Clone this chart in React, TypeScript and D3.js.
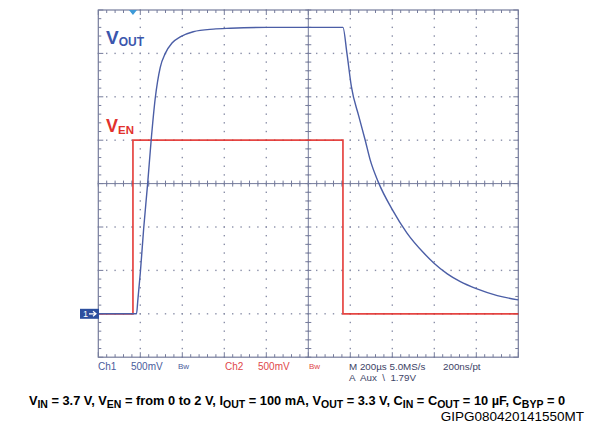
import { useMemo } from "react";
import * as d3 from "d3";

// time in µs from left edge of the screen (200 µs/div, 10 div)
const voutTime = [
  0, 182, 188, 200, 216, 235, 251, 271, 295, 319, 351, 390, 452, 548, 629, 800,
  1165, 1184, 1205, 1240, 1271, 1295, 1333, 1400, 1470, 1550, 1600, 1662, 1724,
  1800, 1900, 2000,
];
const voutVolts = [
  0, 0, 0.15, 0.47, 0.98, 1.5, 1.98, 2.48, 2.84, 3.0, 3.12, 3.19, 3.25, 3.28,
  3.29, 3.3, 3.3, 3.0, 2.62, 2.28, 2.0, 1.77, 1.52, 1.2, 0.93, 0.7, 0.58, 0.46,
  0.37, 0.29, 0.21, 0.16,
];
const venTime = [0, 165, 165, 1165, 1165, 2000];
const venVolts = [0, 0, 2, 2, 0, 0];

const ch1Labels = ["Ch1", "500mV", "Bw"];
const ch2Labels = ["Ch2", "500mV", "Bw"];
const timebaseLabels = ["M 200µs 5.0MS/s", "200ns/pt"];
const triggerLabel = "A  Aux  \\  1.79V";
const figureId = "GIPG080420141550MT";

type Seg = { t: string; sub?: boolean };
const caption: Seg[] = [
  { t: "V" }, { t: "IN", sub: true }, { t: " = 3.7 V, V" }, { t: "EN", sub: true },
  { t: " = from 0 to 2 V, I" }, { t: "OUT", sub: true }, { t: " = 100 mA, V" },
  { t: "OUT", sub: true }, { t: " = 3.3 V, C" }, { t: "IN", sub: true }, { t: " = C" },
  { t: "OUT", sub: true }, { t: " = 10 µF, C" }, { t: "BYP", sub: true }, { t: " = 0" },
];

const W = 594;
const H = 430;
const left = 98.3;
const right = 518.3;
const top = 10;
const bottom = 357.2;

const gridColor = "#767c9c";
const dotColor = "#8a8fa8";
const blue = "#4b5ea6";
const red = "#e2312d";
const font = "'Liberation Sans', Arial, sans-serif";

export default function App() {
  const x = d3.scaleLinear().domain([0, 2000]).range([left, right]);
  const y = d3.scaleLinear().domain([-0.5, 3.5]).range([bottom, top]);

  const xDivs = d3.range(0, 2001, 200);
  const yDivs = d3.range(-0.5, 3.51, 0.5);
  const xMinor = d3.range(0, 2001, 40);
  const yMinor = d3.range(-0.5, 3.51, 0.1);

  const voutPath = useMemo(
    () =>
      d3
        .line<number>()
        .x((t) => x(t))
        .y((_, i) => y(voutVolts[i]))
        .curve(d3.curveMonotoneX)(voutTime) ?? "",
    [],
  );
  const venPath = useMemo(
    () =>
      d3
        .line<number>()
        .x((t) => x(t))
        .y((_, i) => y(venVolts[i]))(venTime) ?? "",
    [],
  );

  const xc = x(1000);
  const yc = y(1.5);
  const ground = y(0);

  return (
    <svg
      width={W}
      height={H}
      style={{ position: "absolute", left: 0, top: 0, background: "#fff" }}
      fontFamily={font}
    >
      {/* dotted graticule */}
      {xDivs.slice(1, -1).map((t) => (
        <g key={"vx" + t}>
          {yMinor.map((v) => (
            <rect key={v} x={x(t) - 0.7} y={y(v) - 0.7} width={1.4} height={1.4} fill={dotColor} />
          ))}
        </g>
      ))}
      {yDivs.slice(1, -1).map((v) => (
        <g key={"hy" + v}>
          {xMinor.map((t) => (
            <rect key={t} x={x(t) - 0.7} y={y(v) - 0.7} width={1.4} height={1.4} fill={dotColor} />
          ))}
        </g>
      ))}

      {/* center axes */}
      <line x1={left} x2={right} y1={yc} y2={yc} stroke={gridColor} strokeWidth={1} />
      <line x1={xc} x2={xc} y1={top} y2={bottom} stroke={gridColor} strokeWidth={1} />
      {xMinor.map((t) => (
        <line key={"cx" + t} x1={x(t)} x2={x(t)} y1={yc - 3} y2={yc + 3} stroke={gridColor} />
      ))}
      {yMinor.map((v) => (
        <line key={"cy" + v} x1={xc - 3} x2={xc + 3} y1={y(v)} y2={y(v)} stroke={gridColor} />
      ))}

      {/* frame with edge ticks */}
      <rect x={left} y={top} width={right - left} height={bottom - top} fill="none" stroke={gridColor} strokeWidth={1.2} />
      {xMinor.map((t) => {
        const major = t % 200 === 0;
        const len = major ? 5 : 3;
        return (
          <g key={"ex" + t} stroke={gridColor}>
            <line x1={x(t)} x2={x(t)} y1={top} y2={top + len} />
            <line x1={x(t)} x2={x(t)} y1={bottom} y2={bottom - len} />
          </g>
        );
      })}
      {yMinor.map((v, i) => {
        const major = i % 5 === 0;
        const len = major ? 5 : 3;
        return (
          <g key={"ey" + i} stroke={gridColor}>
            <line x1={left} x2={left + len} y1={y(v)} y2={y(v)} />
            <line x1={right} x2={right - len} y1={y(v)} y2={y(v)} />
          </g>
        );
      })}

      {/* traces */}
      <path d={venPath} fill="none" stroke={red} strokeWidth={1.7} strokeOpacity={0.9} />
      <path d={voutPath} fill="none" stroke={blue} strokeWidth={1.4} />

      {/* trigger marker */}
      <path d={`M${x(165) - 4},${top} L${x(165) + 4},${top} L${x(165)},${top + 5} Z`} fill="#3d9ad8" />

      {/* ground marker ch1 */}
      <rect x={80} y={ground - 5} width={19} height={10} fill="#2c4f9e" />
      <text x={83} y={ground + 3.5} fontSize={9} fill="#fff">1</text>
      <path d={`M89,${ground} L96,${ground} M93,${ground - 2.5} L96,${ground} L93,${ground + 2.5}`} stroke="#fff" strokeWidth={1.2} fill="none" />

      {/* trace labels */}
      <text x={106} y={44} fill="#3b56ad" fontWeight="bold">
        <tspan fontSize={19}>V</tspan>
        <tspan fontSize={12} dy={2}>OUT</tspan>
      </text>
      <text x={106} y={132} fill={red} fontWeight="bold">
        <tspan fontSize={18}>V</tspan>
        <tspan fontSize={11.5} dy={2}>EN</tspan>
      </text>

      {/* scope readouts */}
      <g fontSize={10} fill="#4a5c9c">
        <text x={98} y={370}>{ch1Labels[0]}</text>
        <text x={131} y={370}>{ch1Labels[1]}</text>
        <text x={178} y={369} fontSize={8}>{ch1Labels[2]}</text>
      </g>
      <g fontSize={10} fill="#e0474a">
        <text x={225} y={370}>{ch2Labels[0]}</text>
        <text x={258} y={370}>{ch2Labels[1]}</text>
        <text x={309} y={369} fontSize={8}>{ch2Labels[2]}</text>
      </g>
      <g fontSize={9.8} fill="#3d4366">
        <text x={349} y={370}>{timebaseLabels[0]}</text>
        <text x={443} y={370}>{timebaseLabels[1]}</text>
        <text x={349} y={381} style={{ whiteSpace: "pre" }}>{triggerLabel}</text>
      </g>

      {/* caption */}
      <text x={297} y={405} textAnchor="middle" fontWeight="bold" fill="#000">
        {caption.map((s, i) =>
          s.sub ? (
            <tspan key={i} fontSize={10.5} dy={3}>{s.t}</tspan>
          ) : (
            <tspan key={i} fontSize={12.8} dy={i === 0 ? 0 : -3}>{s.t}</tspan>
          ),
        )}
      </text>
      <text x={584} y={421} textAnchor="end" fontSize={13.5} fill="#000">{figureId}</text>
    </svg>
  );
}
